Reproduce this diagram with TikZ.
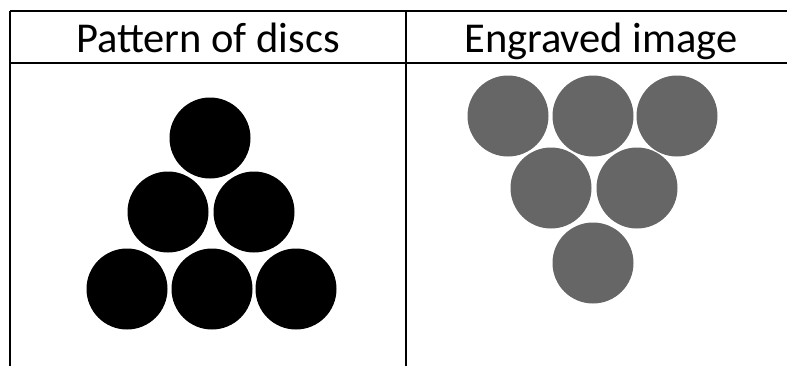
\documentclass[tikz,border=0pt]{standalone}
\usepackage{fontspec}
\setmainfont{Carlito}
\begin{document}
\begin{tikzpicture}[x=1pt,y=-1pt,
  rule/.style={line width=2.2pt,black},
  head/.style={font=\fontsize{42.5}{50}\selectfont,anchor=base,inner sep=0pt},
  blackdisc/.style={circle,fill=black,minimum size=81pt,inner sep=0pt},
  greydisc/.style={circle,fill=gray6,minimum size=81pt,inner sep=0pt}]
\definecolor{gray6}{HTML}{666666}
\useasboundingbox (0,0) rectangle (787,365);
\coordinate (tl) at (10,11);
\coordinate (tr) at (800,11);
\coordinate (hl) at (10,63);
\coordinate (hr) at (800,63);
\coordinate (bl) at (10,370);
\coordinate (mt) at (406,11);
\coordinate (mb) at (406,370);
\draw[rule] (tl) -- (tr);
\draw[rule] (hl) -- (hr);
\draw[rule] (tl) -- (bl);
\draw[rule] (mt) -- (mb);
\node[head] (h1) at (208,52) {Pattern of discs};
\node[head] (h2) at (601,52) {Engraved image};
% black discs
\node[blackdisc] (a1) at (210,138) {};
\node[blackdisc] (b1) at (168,212) {};
\node[blackdisc] (b2) at (254,212) {};
\node[blackdisc] (c1) at (127,289) {};
\node[blackdisc] (c2) at (212,289) {};
\node[blackdisc] (c3) at (296,289) {};
% grey discs
\node[greydisc] (g1) at (508,116) {};
\node[greydisc] (g2) at (593,116) {};
\node[greydisc] (g3) at (677,116) {};
\node[greydisc] (g4) at (551,188) {};
\node[greydisc] (g5) at (637,188) {};
\node[greydisc] (g6) at (593,263) {};
\end{tikzpicture}
\end{document}
